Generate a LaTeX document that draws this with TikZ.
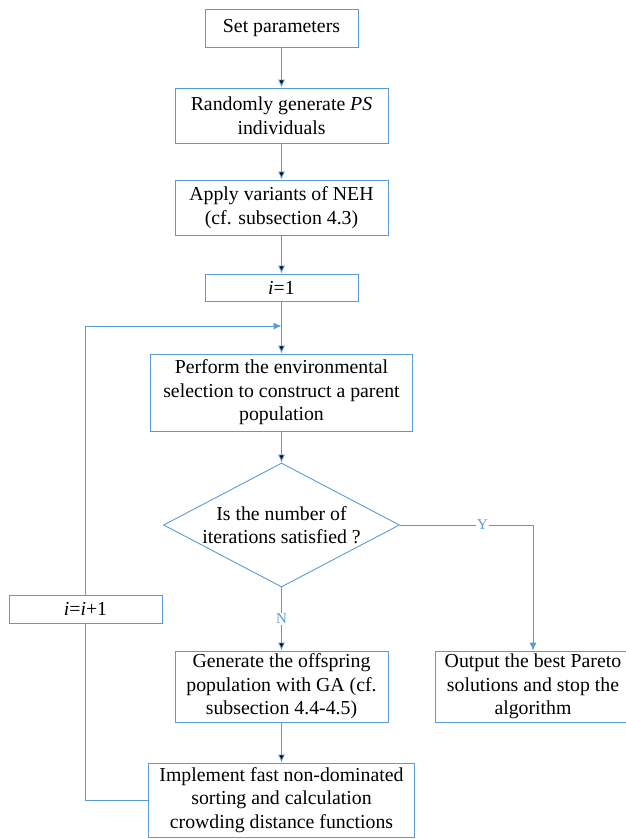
\documentclass[tikz,border=0pt]{standalone}
\usepackage{fontspec}
\setmainfont{Liberation Serif}
\usetikzlibrary{arrows.meta,shapes.geometric}
\definecolor{flowblue}{RGB}{91,155,213}
\begin{document}
\begin{tikzpicture}[x=1pt, y=-1pt,
  box/.style={shape=rectangle, draw=flowblue, line width=0.9pt, align=center, inner sep=0pt, font=\fontsize{19.8}{23.5}\selectfont},
  line/.style={draw=flowblue, line width=0.9pt},
  arr/.style={line, -{Latex[length=8pt, width=7pt]}},
  lbl/.style={fill=white, text=flowblue, inner sep=1pt, font=\fontsize{15}{17}\selectfont}]
\useasboundingbox (0,0) rectangle (625,839);
\node[box, minimum width=153pt, minimum height=38pt] (1) at (281.5,28) {Set parameters};
\node[box, minimum width=213pt, minimum height=55pt] (2) at (281.5,115.5) {Randomly generate \textit{PS}\\individuals};
\node[box, minimum width=213pt, minimum height=55pt] (3) at (281.5,207.5) {Apply variants of NEH\\(cf. subsection 4.3)};
\node[box, minimum width=153pt, minimum height=27pt] (4) at (281.5,287.5) {\textit{i}=1};
\node[box, minimum width=262pt, minimum height=77pt] (5) at (281.5,392.5) {Perform the environmental\\selection to construct a parent\\population};
\node[box, shape=diamond, shape aspect=1.9, minimum width=236pt, minimum height=124pt] (6) at (281.5,525) {Is the number of\\iterations satisfied ?};
\node[box, minimum width=153pt, minimum height=28pt] (7) at (85.5,609) {\textit{i}=\textit{i}+1};
\node[box, minimum width=213pt, minimum height=71pt] (8) at (281.5,686.5) {Generate the offspring\\population with GA (cf.\\subsection 4.4-4.5)};
\node[box, minimum width=196pt, minimum height=71pt] (9) at (533,686.5) {Output the best Pareto\\solutions and stop the\\algorithm};
\node[box, minimum width=266pt, minimum height=74pt] (10) at (281.5,800) {Implement fast non-dominated\\sorting and calculation\\crowding distance functions};
\coordinate (j) at (281.5,326);
\path [arr] (1) edge (2);
\path [arr] (2) edge (3);
\path [arr] (3) edge (4);
\path [arr] (4) edge (5);
\path [arr] (5) edge (6);
\path [arr] (6) edge node[lbl] {N} (8);
\draw [arr] (6.east) -| node[lbl, pos=0.31] {Y} (9.north);
\path [arr] (8) edge (10);
\draw [line] (10.west) -| (7.south);
\draw [arr] (7.north) |- (j);
\end{tikzpicture}
\end{document}
